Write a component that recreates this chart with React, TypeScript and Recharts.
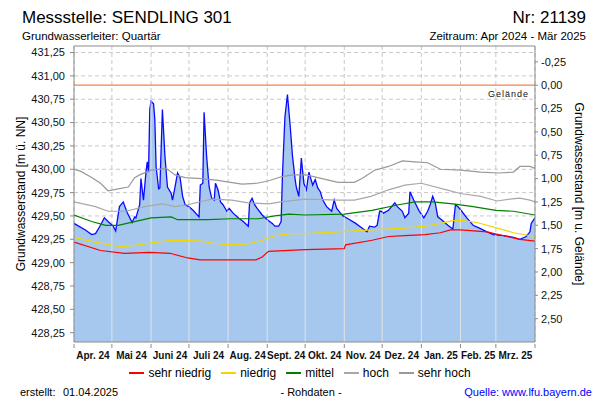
import React from 'react';
import {
  Area,
  CartesianGrid,
  ComposedChart,
  Line,
  ReferenceLine,
  XAxis,
  YAxis,
} from 'recharts';

const FONT = '"Liberation Sans", Arial, sans-serif';

const monthLabels = [
  'Apr. 24', 'Mai 24', 'Juni 24', 'Juli 24', 'Aug. 24', 'Sept. 24',
  'Okt. 24', 'Nov. 24', 'Dez. 24', 'Jan. 25', 'Feb. 25', 'Mrz. 25',
];
// days per month, Apr 2024 - Mar 2025
const monthLengths = [30, 31, 30, 31, 31, 30, 31, 30, 31, 31, 28, 31];

const leftTicks = [
  428.25, 428.5, 428.75, 429, 429.25, 429.5, 429.75,
  430, 430.25, 430.5, 430.75, 431, 431.25,
];
const rightTicks = [
  -0.25, 0, 0.25, 0.5, 0.75, 1, 1.25, 1.5, 1.75, 2, 2.25, 2.5,
];

const gelaende = 430.9;
const yDomain: [number, number] = [428.15, 431.32];

// [day since 01.04.2024, m ü. NN]
const rohdaten: [number, number][] = [
  [0, 429.42], [9, 429.35], [14, 429.3], [17, 429.31], [21, 429.4], [24, 429.48],
  [27, 429.44], [31, 429.39], [33, 429.34], [36, 429.6], [39, 429.65], [42, 429.54],
  [46, 429.43], [48, 429.49], [49, 429.48], [52, 429.62], [53, 429.9], [55, 429.67],
  [57, 429.97], [58, 430.08], [59, 429.97], [60, 430.64], [61, 430.73], [63, 430.7],
  [64, 430.53], [65, 430.03], [67, 429.79], [68, 429.8], [70, 430.64], [72, 430.14],
  [74, 429.81], [77, 429.74], [78, 429.67], [80, 429.81], [82, 429.96], [84, 429.91],
  [86, 429.71], [88, 429.62], [91, 429.6], [95, 429.55], [99, 429.49], [100, 429.83],
  [102, 429.85], [103, 430.61], [105, 430.14], [107, 429.81], [109, 429.69], [111, 429.67],
  [112, 429.85], [114, 429.78], [116, 429.65], [118, 429.62], [121, 429.55], [123, 429.58],
  [126, 429.53], [130, 429.48], [134, 429.44], [138, 429.39], [139, 429.64], [141, 429.69],
  [143, 429.62], [145, 429.58], [149, 429.51], [153, 429.46], [157, 429.42], [159, 429.39],
  [162, 429.39], [164, 429.44], [165, 429.92], [167, 430.56], [169, 430.8], [171, 430.49],
  [173, 430.14], [175, 429.9], [176, 429.81], [178, 429.71], [180, 430.12], [182, 429.85],
  [184, 429.78], [186, 429.97], [189, 429.83], [191, 429.89], [193, 429.8], [195, 429.76],
  [197, 429.67], [200, 429.6], [204, 429.55], [206, 429.67], [208, 429.58], [211, 429.53],
  [213, 429.5], [217, 429.47], [223, 429.42], [228, 429.37], [232, 429.33], [234, 429.39],
  [238, 429.38], [240, 429.4], [242, 429.55], [243, 429.55], [245, 429.53], [249, 429.56],
  [254, 429.64], [256, 429.6], [260, 429.55], [262, 429.48], [265, 429.53], [266, 429.76],
  [269, 429.67], [273, 429.56], [277, 429.48], [280, 429.55], [282, 429.62], [284, 429.71],
  [286, 429.64], [288, 429.49], [291, 429.46], [296, 429.4], [300, 429.36], [302, 429.62],
  [304, 429.6], [307, 429.55], [311, 429.48], [316, 429.4], [321, 429.37], [327, 429.33],
  [332, 429.3], [340, 429.29], [348, 429.27], [353, 429.25], [358, 429.28], [361, 429.33],
  [362, 429.42], [364, 429.46], [365, 429.48],
];

const sehrNiedrig: [number, number][] = [
  [0, 429.22], [21, 429.13], [40, 429.1], [60, 429.11], [76, 429.1], [90, 429.05],
  [100, 429.03], [144, 429.03], [149, 429.06], [154, 429.12], [183, 429.14], [214, 429.15],
  [215, 429.19], [236, 429.24], [249, 429.28], [262, 429.29], [278, 429.3], [290, 429.32],
  [298, 429.35], [306, 429.35], [327, 429.33], [343, 429.28], [353, 429.25], [365, 429.23],
];

const niedrig: [number, number][] = [
  [0, 429.27], [17, 429.22], [33, 429.18], [40, 429.17], [56, 429.2], [72, 429.23],
  [80, 429.24], [101, 429.23], [109, 429.21], [122, 429.19], [138, 429.2], [149, 429.24],
  [159, 429.29], [172, 429.31], [183, 429.31], [209, 429.33], [236, 429.35], [262, 429.37],
  [278, 429.39], [290, 429.42], [300, 429.45], [308, 429.45], [319, 429.43], [335, 429.37],
  [348, 429.32], [365, 429.28],
];

const mittel: [number, number][] = [
  [0, 429.51], [14, 429.44], [25, 429.4], [35, 429.4], [48, 429.44], [61, 429.48],
  [77, 429.49], [82, 429.46], [106, 429.46], [124, 429.47], [146, 429.47], [159, 429.5],
  [170, 429.52], [183, 429.51], [214, 429.52], [236, 429.56], [257, 429.62], [270, 429.65],
  [284, 429.65], [300, 429.63], [316, 429.6], [334, 429.56], [348, 429.55], [365, 429.51],
];

const hoch: [number, number][] = [
  [0, 429.65], [17, 429.6], [27, 429.55], [41, 429.55], [56, 429.6], [70, 429.63],
  [80, 429.6], [90, 429.62], [109, 429.68], [125, 429.67], [138, 429.64], [154, 429.63],
  [164, 429.65], [183, 429.68], [210, 429.67], [222, 429.67], [235, 429.71], [249, 429.78],
  [262, 429.83], [275, 429.85], [295, 429.78], [306, 429.74], [322, 429.71], [335, 429.66],
  [345, 429.68], [353, 429.69], [361, 429.67], [365, 429.65],
];

const sehrHoch: [number, number][] = [
  [0, 430.0], [5, 429.98], [13, 429.92], [21, 429.85], [27, 429.77], [35, 429.79],
  [43, 429.81], [48, 429.91], [52, 429.94], [61, 429.99], [73, 430.01], [80, 429.94],
  [88, 429.91], [101, 429.9], [114, 429.88], [124, 429.86], [133, 429.84], [145, 429.85],
  [155, 429.88], [164, 429.92], [173, 429.94], [184, 429.94], [193, 429.91], [209, 429.86],
  [222, 429.86], [228, 429.9], [238, 429.99], [249, 430.03], [260, 430.09], [270, 430.08],
  [280, 430.07], [290, 430.0], [306, 429.99], [322, 429.97], [336, 429.96], [348, 429.97],
  [353, 430.03], [361, 430.03], [365, 430.01],
];

const legendNames = ['sehr niedrig', 'niedrig', 'mittel', 'hoch', 'sehr hoch'];

const COLORS = {
  roh: '#0a0aff',
  fill: '#a6c8ee',
  sehrNiedrig: '#ff0000',
  niedrig: '#f2d600',
  mittel: '#008000',
  hoch: '#a8a8a8',
  sehrHoch: '#999999',
  gelaende: '#f08448',
  axis: '#8c8c8c',
  grid: '#c8c8c8',
};
const legendColors = [COLORS.sehrNiedrig, COLORS.niedrig, COLORS.mittel, COLORS.hoch, COLORS.sehrHoch];

const toRows = (pts: [number, number][]) => pts.map(([d, v]) => ({ d, v }));

const monthStarts = monthLengths.reduce<number[]>(
  (acc, len) => [...acc, acc[acc.length - 1] + len],
  [0],
);
const monthMids = monthLengths.map((len, i) => monthStarts[i] + len / 2);
const xTicks = [...monthStarts, ...monthMids].sort((a, b) => a - b);

const fmt = (v: number) => v.toFixed(2).replace('.', ',');

// level of the raw series at a given day, used to stop the month lines at the fill edge
const levelAt = (d: number) => {
  for (let i = 1; i < rohdaten.length; i++) {
    const [d0, v0] = rohdaten[i - 1];
    const [d1, v1] = rohdaten[i];
    if (d >= d0 && d <= d1) return v0 + ((v1 - v0) * (d - d0)) / (d1 - d0);
  }
  return rohdaten[rohdaten.length - 1][1];
};

const MonthTick = (props: any) => {
  const { x, y, payload } = props;
  const v = payload.value;
  if (monthStarts.includes(v)) {
    return <line x1={x} y1={y} x2={x} y2={y + 4} stroke={COLORS.axis} />;
  }
  const i = monthMids.indexOf(v);
  return (
    <text x={x} y={y + 15} textAnchor="middle" fontSize={10} fontWeight="bold" fill="#111" fontFamily={FONT}>
      {monthLabels[i]}
    </text>
  );
};

const tickStyle = { fontSize: 11, fill: '#111', fontFamily: FONT };

export default function App() {
  return (
    <div style={{ position: 'absolute', left: 0, top: 0, width: 600, height: 400, background: '#fff', fontFamily: FONT }}>
      <ComposedChart width={600} height={400} margin={{ top: 46, right: 0, bottom: 38, left: 0 }}>
        <CartesianGrid
          yAxisId="left"
          stroke={COLORS.grid}
          strokeDasharray="4 3"
          verticalValues={monthStarts}
          horizontalValues={leftTicks}
        />
        <XAxis
          dataKey="d"
          type="number"
          domain={[0, 365]}
          allowDataOverflow
          ticks={xTicks}
          interval={0}
          tick={MonthTick}
          tickLine={false}
          tickSize={0}
          height={20}
          axisLine={{ stroke: COLORS.axis }}
        />
        <YAxis
          yAxisId="left"
          type="number"
          domain={yDomain}
          allowDataOverflow
          ticks={leftTicks}
          interval={0}
          tickFormatter={fmt}
          tick={tickStyle}
          tickSize={4}
          tickMargin={5}
          width={74}
          axisLine={{ stroke: COLORS.axis }}
          tickLine={{ stroke: COLORS.axis }}
        />
        <YAxis
          yAxisId="right"
          orientation="right"
          type="number"
          reversed
          domain={[gelaende - yDomain[1], gelaende - yDomain[0]]}
          allowDataOverflow
          ticks={rightTicks}
          interval={0}
          tickFormatter={fmt}
          tick={tickStyle}
          tickSize={3}
          tickMargin={3}
          width={65}
          axisLine={{ stroke: COLORS.axis }}
          tickLine={{ stroke: COLORS.axis }}
        />
        <Area
          yAxisId="left"
          data={toRows(rohdaten)}
          dataKey="v"
          type="linear"
          stroke={COLORS.roh}
          strokeWidth={1.3}
          fill={COLORS.fill}
          fillOpacity={1}
          baseValue="dataMin"
          dot={false}
          activeDot={false}
          isAnimationActive={false}
        />
        {monthStarts.slice(1, -1).map((d) => (
          <ReferenceLine
            key={d}
            yAxisId="left"
            segment={[{ x: d, y: yDomain[0] }, { x: d, y: levelAt(d) }]}
            stroke="#e2e2e2"
            strokeWidth={1}
          />
        ))}
        <ReferenceLine yAxisId="left" y={yDomain[1]} stroke={COLORS.axis} />
        <ReferenceLine
          yAxisId="left"
          y={gelaende}
          stroke={COLORS.gelaende}
          strokeWidth={1.2}
          label={{
            content: ({ viewBox }: any) => (
              <text
                x={viewBox.x + viewBox.width - 6}
                y={viewBox.y + 12}
                textAnchor="end"
                fontSize={9}
                letterSpacing={1}
                fill="#111"
                fontFamily={FONT}
              >
                Gelände
              </text>
            ),
          }}
        />
        <Line yAxisId="left" data={toRows(sehrHoch)} dataKey="v" type="linear" stroke={COLORS.sehrHoch} strokeWidth={1.2} dot={false} activeDot={false} isAnimationActive={false} />
        <Line yAxisId="left" data={toRows(hoch)} dataKey="v" type="linear" stroke={COLORS.hoch} strokeWidth={1.2} dot={false} activeDot={false} isAnimationActive={false} />
        <Line yAxisId="left" data={toRows(mittel)} dataKey="v" type="linear" stroke={COLORS.mittel} strokeWidth={1.2} dot={false} activeDot={false} isAnimationActive={false} />
        <Line yAxisId="left" data={toRows(niedrig)} dataKey="v" type="linear" stroke={COLORS.niedrig} strokeWidth={1.2} dot={false} activeDot={false} isAnimationActive={false} />
        <Line yAxisId="left" data={toRows(sehrNiedrig)} dataKey="v" type="linear" stroke={COLORS.sehrNiedrig} strokeWidth={1.2} dot={false} activeDot={false} isAnimationActive={false} />
      </ComposedChart>

      <svg width={600} height={400} style={{ position: 'absolute', left: 0, top: 0, pointerEvents: 'none' }} fontFamily={FONT}>
        <text x={22} y={23} fontSize={17} fill="#000">Messstelle: SENDLING 301</text>
        <text x={586} y={23} fontSize={17} fill="#000" textAnchor="end">Nr: 21139</text>
        <text x={22} y={40} fontSize={11.5} fill="#000">Grundwasserleiter: Quartär</text>
        <text x={586} y={40} fontSize={11.5} fill="#000" textAnchor="end">Zeitraum: Apr 2024 - Mär 2025</text>
        <text x={21} y={194} fontSize={12} fill="#000" textAnchor="middle" dominantBaseline="central" transform="rotate(-90 21 194)">
          Grundwasserstand [m ü. NN]
        </text>
        <text x={579} y={194} fontSize={12} fill="#000" textAnchor="middle" dominantBaseline="central" transform="rotate(90 579 194)">
          Grundwasserstand [m u. Gelände]
        </text>
        <text x={20} y={396} fontSize={11} fill="#000">erstellt:</text>
        <text x={63} y={396} fontSize={11} fill="#000">01.04.2025</text>
        <text x={311} y={396} fontSize={11} fill="#000" textAnchor="middle">- Rohdaten -</text>
        <text x={592} y={396} fontSize={11} fill="#0000ff" textAnchor="end">Quelle: www.lfu.bayern.de</text>
      </svg>

      <div
        style={{
          position: 'absolute', left: 0, top: 366, width: 600, display: 'flex',
          justifyContent: 'center', alignItems: 'center', gap: 10, fontSize: 12, lineHeight: '14px', color: '#000',
        }}
      >
        {legendNames.map((name, i) => (
          <span key={name} style={{ display: 'flex', alignItems: 'center' }}>
            <span style={{ display: 'inline-block', width: 15, height: 1.5, background: legendColors[i], marginRight: 4 }} />
            {name}
          </span>
        ))}
      </div>
    </div>
  );
}
